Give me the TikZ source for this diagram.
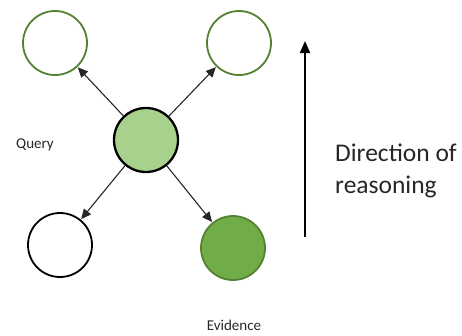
\documentclass[tikz,border=0pt]{standalone}
\usepackage{fontspec}
\setmainfont{Carlito}
\usetikzlibrary{arrows.meta}
\definecolor{leafgreen}{HTML}{548235}
\definecolor{lightgreen}{HTML}{A9D18E}
\definecolor{midgreen}{HTML}{70AD47}
\definecolor{inkgray}{HTML}{262626}
\tikzset{
  var/.style={circle, minimum size=64pt, inner sep=0pt, line width=1.8pt},
  link/.style={-{Triangle[length=10pt,width=9pt]}, line width=1.1pt, draw=inkgray, shorten >=0.5pt},
  tag/.style={text=inkgray, inner sep=0pt}
}
\begin{document}
\begin{tikzpicture}[x=1pt, y=-1pt]
  \useasboundingbox (0,0) rectangle (462,335);
  % variables of the network
  \node[var, draw=leafgreen] (tl) at (55,43) {};
  \node[var, draw=leafgreen] (tr) at (239,43) {};
  \node[var, draw=black, fill=lightgreen, line width=2.3pt] (mid) at (146,140) {};
  \node[var, draw=black] (bl) at (60,245) {};
  \node[var, draw=leafgreen, fill=midgreen] (br) at (233,248) {};
  % dependencies
  \draw[link] (mid) -- (tl);
  \draw[link] (mid) -- (tr);
  \draw[link] (mid) -- (bl);
  \draw[link] (mid) -- (br);
  % labels
  \node[tag, font=\fontsize{15}{17}\selectfont] (q) at (35,145) {Query};
  \node[tag, font=\fontsize{15}{17}\selectfont] (ev) at (234,325) {Evidence};
  % direction of reasoning
  \coordinate (up0) at (305,237);
  \coordinate (up1) at (305,41);
  \draw[-{Triangle[length=12pt,width=10pt]}, line width=2pt] (up0) -- (up1);
  \node[tag, anchor=base west, align=left, font=\fontsize{25.5}{32}\selectfont] (dir) at (335,193) {Direction of\\reasoning};
\end{tikzpicture}
\end{document}
